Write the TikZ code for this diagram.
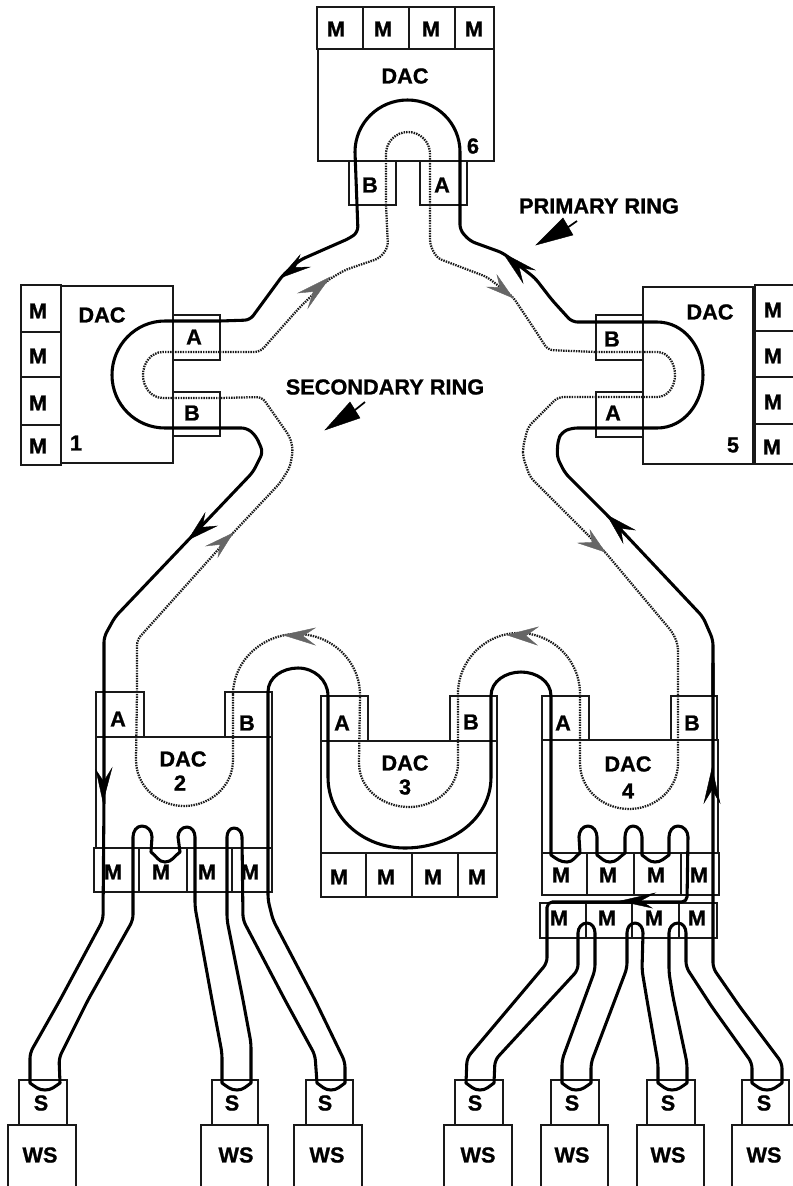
\documentclass[tikz,border=0pt]{standalone}
\usepackage{fontspec}
\setmainfont{Liberation Sans}[BoldFeatures={FakeBold=1.0}]
\usetikzlibrary{calc}
\tikzset{
  cell/.style={draw=black!90,line width=1.15pt,inner sep=0pt,outer sep=0pt},
  lab/.style={inner sep=0pt,font=\bfseries\fontsize{16.3}{18}\selectfont},
  prim/.style={draw=black,line width=2.3pt,line cap=round,line join=round},
  sec/.style={draw=black!90,line width=1.7pt,dash pattern=on 1.1pt off 0.8pt},
  barb/.style={fill=black,draw=black,line width=.3pt},
  hatch/.style={fill=black!60,draw=black!60,line width=.3pt},
  rc/.style={rounded corners=4pt}
}
\newcommand\bx[5]{%
  \pgfmathsetmacro\bw{(#4-#2)*0.75}\pgfmathsetmacro\bh{(#5-#3)*0.75}%
  \node[cell,minimum width=\bw pt,minimum height=\bh pt] (#1) at ({(#2+#4)/2},{(#3+#5)/2}) {};}
\newcommand\tipa[4][barb]{\path[#1] (#2) -- (#3) -- ($(#2)!.62!($(#3)!.5!(#4)$)$) -- (#4) -- cycle;}
\newcommand\dip[3]{[sharp corners] -- (#1) to[out=-35,in=180] (#2) to[out=0,in=-145] (#3) [rounded corners=4pt]}
\newcommand\hump[3]{[sharp corners] -- (#1) to[out=90,in=180] (#2) to[out=0,in=90] (#3) [rounded corners=4pt]}
\begin{document}
\begin{tikzpicture}[x=0.75pt,y=-0.75pt]
\useasboundingbox[fill=white] (0,0) rectangle (793,1186);
% ---- DAC 6
\bx{m6a}{317}{7}{363}{49}\bx{m6b}{363}{7}{409}{49}\bx{m6c}{409}{7}{455}{49}\bx{m6d}{455}{7}{494}{49}
\bx{dac6}{318}{49}{494}{161}\bx{b6}{349}{161}{396}{205}\bx{a6}{420}{161}{467}{205}
% ---- DAC 1
\bx{m1a}{21}{285}{61}{332}\bx{m1b}{21}{332}{61}{377}\bx{m1c}{21}{377}{61}{425}\bx{m1d}{21}{425}{61}{465}
\bx{dac1}{61}{286}{173}{463}\bx{a1}{173}{315}{220}{360}\bx{b1}{173}{392}{220}{436}
% ---- DAC 5
\bx{m5a}{755}{285}{796}{331}\bx{m5b}{755}{331}{796}{377}\bx{m5c}{755}{377}{796}{424}\bx{m5d}{755}{424}{796}{464}
\bx{dac5}{643}{287}{753}{464}\bx{b5}{596}{315}{643}{360}\bx{a5}{596}{392}{643}{437}
% ---- DAC 2
\bx{dac2}{96}{737}{272}{848}\bx{a2}{96}{692}{144}{737}\bx{b2}{225}{692}{272}{737}
\bx{m2a}{94}{848}{139}{892}\bx{m2b}{139}{848}{187}{892}\bx{m2c}{187}{848}{232}{892}\bx{m2d}{232}{848}{272}{892}
% ---- DAC 3
\bx{dac3}{321}{741}{497}{853}\bx{a3}{321}{696}{368}{741}\bx{b3}{450}{696}{497}{741}
\bx{m3a}{321}{853}{366}{897}\bx{m3b}{366}{853}{412}{897}\bx{m3c}{412}{853}{458}{897}\bx{m3d}{458}{853}{497}{897}
% ---- DAC 4
\bx{dac4}{542}{740}{718}{853}\bx{a4}{542}{696}{589}{740}\bx{b4}{671}{696}{717}{740}
\bx{m4a}{542}{853}{587}{895}\bx{m4b}{587}{853}{634}{895}\bx{m4c}{634}{853}{681}{895}\bx{m4d}{681}{853}{719}{895}
\bx{n4a}{540}{903}{586}{938}\bx{n4b}{586}{903}{632}{938}\bx{n4c}{632}{903}{679}{938}\bx{n4d}{679}{903}{717}{938}
% ---- S and WS
\bx{s1}{19}{1080}{67}{1125}\bx{w1}{8}{1125}{76}{1192}
\bx{s2}{212}{1080}{258}{1125}\bx{w2}{201}{1125}{268}{1192}
\bx{s3}{306}{1080}{353}{1125}\bx{w3}{294}{1125}{362}{1192}
\bx{s4}{455}{1080}{503}{1125}\bx{w4}{444}{1125}{512}{1192}
\bx{s5}{551}{1080}{599}{1125}\bx{w5}{541}{1125}{608}{1192}
\bx{s6}{647}{1080}{695}{1125}\bx{w6}{637}{1125}{704}{1192}
\bx{s7}{742}{1080}{789}{1125}\bx{w7}{732}{1125}{796}{1192}
% ---- ports on the rings
\coordinate (pA6) at (460,205); \coordinate (pB6) at (357,205);
\coordinate (pA1) at (220,321); \coordinate (pB1) at (220,428);
\coordinate (pB5) at (596,322); \coordinate (pA5) at (596,428);
\coordinate (pA2) at (104,692); \coordinate (pB2) at (268,692);
\coordinate (pA3) at (328,696); \coordinate (pB3) at (491,696);
\coordinate (pA4) at (551,696); \coordinate (pB4) at (713,696);
\coordinate (qB6) at (386,205); \coordinate (qA6) at (430,205);
\coordinate (qA1) at (220,352); \coordinate (qB1) at (220,398);
\coordinate (qB5) at (596,352); \coordinate (qA5) at (596,397);
\coordinate (qA2) at (137,692); \coordinate (qB2) at (233,692);
\coordinate (qA3) at (360,696); \coordinate (qB3) at (458,696);
\coordinate (qA4) at (580,696); \coordinate (qB4) at (678,696);
% ---- secondary ring
\path[sec] (qB6) -- (386,154) to[out=90,in=180] (408,132) to[out=0,in=90] (430,154) -- (qA6);
\path[sec,rc] (qA6) -- (430,245) -- (437,258) -- (487,277) -- (513,297) -- (533,327) -- (548,350) -- (qB5);
\path[sec] (qB5) -- (657,352) to[out=0,in=90] (675,375) to[out=-90,in=0] (657,397) -- (qA5);
\path[sec,rc] (qA5) -- (558,397) -- (528,427) -- (523,447) -- (523,457) -- (530,477) -- (605,552) -- (673,633) -- (678,645) -- (qB4);
\path[sec] (qB4) -- (678,763) to[out=-90,in=0] (629,809) to[out=180,in=-90] (580,763) -- (qA4);
\path[sec] (qA4) -- (580,694) to[out=90,in=0] (519,633) to[out=180,in=90] (458,694) -- (qB3);
\path[sec] (qB3) -- (458,763) to[out=-90,in=0] (409,807) to[out=180,in=-90] (359,763) -- (qA3);
\path[sec] (qA3) -- (360,695) to[out=90,in=0] (297,634) to[out=180,in=90] (233,695) -- (qB2);
\path[sec] (qB2) -- (233,760) to[out=-90,in=0] (184,806) to[out=180,in=-90] (136,760) -- (qA2);
\path[sec,rc] (qA2) -- (137,640) -- (233,533) -- (280,483) -- (290,467) -- (293,450) -- (290,437) -- (262,397) -- (qB1);
\path[sec] (qB1) -- (163,398) to[out=180,in=-90] (143,375) to[out=90,in=180] (163,352) -- (qA1);
\path[sec,rc] (qA1) -- (260,352) -- (300,307) -- (328,280) -- (345,270) -- (380,258) -- (388,247) -- (qB6);
\tipa[hatch]{330,277}{298,293}{308,308}
\tipa[hatch]{513,298}{497,275}{487,287}
\tipa[hatch]{233,533}{206,546}{218,557}
\tipa[hatch]{605,552}{590,530}{578,543}
\tipa[hatch]{283,635}{315,628}{315,645}
\tipa[hatch]{507,635}{538,627}{537,645}
% ---- primary ring
\draw[prim,rc] (pB5) -- (572,322) -- (552,300) -- (535,278) -- (503,253) -- (470,241) -- (460,230) -- (pA6);
\draw[prim] (pA6) -- (460,152) to[out=90,in=0] (407.5,100) to[out=180,in=90] (355,152) -- (pB6);
\draw[prim,rc] (pB6) -- (358,232) -- (350,238) -- (300,260) -- (283,275) -- (250,320) -- (pA1);
\draw[prim] (pA1) -- (165,321) to[out=180,in=90] (112,375) to[out=-90,in=180] (165,428) -- (pB1);
\draw[prim,rc] (pB1) -- (247,428) -- (256,436) -- (263,452) -- (253,472) -- (115,617) -- (104,637) -- (pA2);
% DAC 2 to the S boxes
\draw[prim,rc] (pA2) -- (104,800) -- (103,920) -- (60,1000) -- (30,1053) \dip{30,1083}{45,1090}{60,1083} -- (59,1058) -- (88,1000) -- (133,920) \hump{133,837}{142,826}{152,837} \dip{151,852}{165,862}{180,852} \hump{178,837}{187,827}{195,837} -- (195,907) -- (212,1000) -- (222,1053) \dip{222,1083}{237,1090}{251,1083} -- (251,1043) -- (243,1000) -- (227,920) \hump{227,837}{234,828}{242,837} -- (243,920) -- (285,1000) -- (315,1055) \dip{317,1083}{331,1090}{345,1083} -- (345,1062) -- (315,1000) -- (273,920) -- (268,900) -- (pB2);
% DAC 2, 3, 4 loops
\draw[prim] (pB2) to[out=90,in=180] (298,668) to[out=0,in=90] (328,696) -- (pA3);
\draw[prim] (pA3) -- (328,777) to[out=-90,in=180] (405,848) to[out=0,in=-90] (491,777) -- (pB3);
\draw[prim] (pB3) to[out=90,in=180] (521,672) to[out=0,in=90] (551,696) -- (pA4);
% DAC 4 to the S boxes
\draw[prim,rc] (pA4) \dip{551,855}{567,862}{580,853} \hump{579,837}{588,826}{597,837} \dip{597,855}{610,862}{625,853} \hump{625,837}{633,826}{642,837} \dip{642,855}{655,862}{669,855} \hump{669,837}{678,826}{688,837} -- (687,902) -- (547,902) -- (547,963) -- (467,1058) \dip{466,1083}{480,1090}{494,1083} -- (495,1060) -- (578,970) \hump{578,933}{587,923}{595,933} -- (595,970) -- (562,1060) \dip{562,1083}{576,1090}{591,1083} -- (591,1063) -- (627,968) \hump{627,933}{635,923}{643,933} -- (642,970) -- (647,1000) -- (658,1063) \dip{658,1083}{672,1090}{687,1083} -- (687,1063) -- (673,997) -- (669,973) \hump{669,933}{678,923}{686,933} -- (686,967) -- (712,1007) -- (752,1063) \dip{752,1083}{767,1090}{782,1083} -- (782,1063) -- (740,1007) -- (713,968) -- (713,660) -- (pB4);
\draw[prim,rc] (pB4) -- (713,640) -- (703,617) -- (607,515) -- (565,473) -- (557,457) -- (558,440) -- (562,432) -- (572,428) -- (pA5);
\draw[prim] (pA5) -- (657,428) to[out=0,in=-90] (703,375) to[out=90,in=0] (657,322) -- (pB5);
% arrowheads on the primary ring
\tipa{503,253}{535,270}{523,283}
\tipa{280,278}{300,255}{310,267}
\tipa{188,540}{205,513}{217,526}
\tipa{103,802}{96,770}{112,768}
\tipa{607,515}{635,530}{623,543}
\tipa{712,768}{704,803}{720,803}
\tipa{620,901}{655,893}{652,908}
% ---- ring pointers
\coordinate (pr0) at (577,221); \coordinate (sr0) at (365,402);
\path[barb] (536,245) -- (563,218) -- (573,235) -- cycle;
\draw[line width=1.3pt] (pr0) -- (567,228);
\path[barb] (325,430) -- (350,402) -- (360,418) -- cycle;
\draw[line width=1.3pt] (sr0) -- (355,410);
% ---- labels
\node[lab] (tp) at (599,206) {PRIMARY RING};
\node[lab] (ts) at (385,387) {SECONDARY RING};
\node[lab] (d6) at (405,76) {DAC};\node[lab] (n6) at (473,146) {6};
\node[lab] (d1) at (102,315) {DAC};\node[lab] (n1) at (76,443) {1};
\node[lab] (d5) at (710,312) {DAC};\node[lab] (n5) at (733,445) {5};
\node[lab] (d2) at (183,759) {DAC};\node[lab] (n2) at (180,783) {2};
\node[lab] (d3) at (405,763) {DAC};\node[lab] (n3) at (405,787) {3};
\node[lab] (d4) at (628,764) {DAC};\node[lab] (n4) at (628,791) {4};
\foreach \n/\x/\y in {ta6/442/185,ta1/194/337,ta5/613/413,ta2/118/719,ta3/342/723,ta4/563/723}
  \node[lab] (\n) at (\x,\y) {A};
\foreach \n/\x/\y in {tb6/370/185,tb1/192/413,tb5/612/339,tb2/247/723,tb3/471/722,tb4/692/723}
  \node[lab] (\n) at (\x,\y) {B};
\foreach \n/\x/\y in {
  t1/336/29,t2/383/29,t3/431/29,t4/474/29,
  t5/38/311,t6/38/356,t7/38/403,t8/38/446,
  t9/773/310,t10/773/356,t11/773/402,t12/772/447,
  t13/113/872,t14/161/872,t15/207/872,t16/250/872,
  t17/339/877,t18/386/877,t19/433/877,t20/477/877,
  t21/561/875,t22/608/875,t23/656/875,t24/699/875,
  t25/559/918,t26/607/918,t27/654/918,t28/697/918}
  \node[lab] (\n) at (\x,\y) {M};
\foreach \n/\x in {u1/41,u2/232,u3/325,u4/475,u5/572,u6/668,u7/764}
  \node[lab] (\n) at (\x,1103) {S};
\foreach \n/\x in {v1/40,v2/236,v3/327,v4/478,v5/572,v6/668,v7/764}
  \node[lab] (\n) at (\x,1155) {WS};
\end{tikzpicture}
\end{document}
